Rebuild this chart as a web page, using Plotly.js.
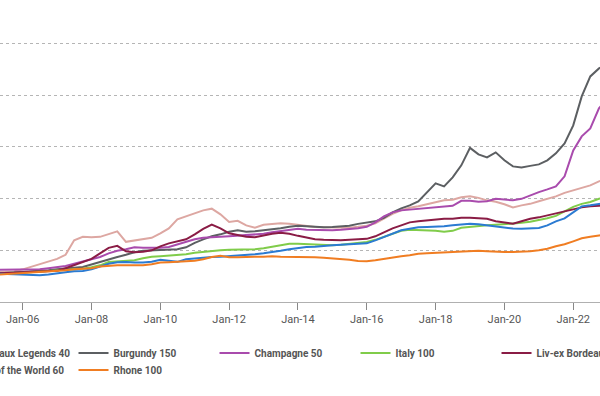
<!DOCTYPE html>
<html>
<head>
<meta charset="utf-8">
<script src="https://cdn.plot.ly/plotly-3.0.1.min.js"></script>
<style>
  html, body { margin: 0; padding: 0; width: 600px; height: 396px; overflow: hidden; background: #fff; }
  #chart { position: absolute; left: -100px; top: 0; width: 800px; height: 396px; }
</style>
</head>
<body>
<div id="chart"></div>
<script>
const dates = [
  '2005-01-01','2005-04-01','2005-07-01','2005-10-01',
  '2006-01-01','2006-04-01','2006-07-01','2006-10-01',
  '2007-01-01','2007-04-01','2007-07-01','2007-10-01',
  '2008-01-01','2008-04-01','2008-07-01','2008-10-01',
  '2009-01-01','2009-04-01','2009-07-01','2009-10-01',
  '2010-01-01','2010-04-01','2010-07-01','2010-10-01',
  '2011-01-01','2011-04-01','2011-07-01','2011-10-01',
  '2012-01-01','2012-04-01','2012-07-01','2012-10-01',
  '2013-01-01','2013-04-01','2013-07-01','2013-10-01',
  '2014-01-01','2014-04-01','2014-07-01','2014-10-01',
  '2015-01-01','2015-04-01','2015-07-01','2015-10-01',
  '2016-01-01','2016-04-01','2016-07-01','2016-10-01',
  '2017-01-01','2017-04-01','2017-07-01','2017-10-01',
  '2018-01-01','2018-04-01','2018-07-01','2018-10-01',
  '2019-01-01','2019-04-01','2019-07-01','2019-10-01',
  '2020-01-01','2020-04-01','2020-07-01','2020-10-01',
  '2021-01-01','2021-04-01','2021-07-01','2021-10-01',
  '2022-01-01','2022-04-01','2022-07-01','2022-10-01',
  '2023-01-01'
];

const tickDates = ['2006-01-01','2008-01-01','2010-01-01','2012-01-01','2014-01-01',
                   '2016-01-01','2018-01-01','2020-01-01','2022-01-01'];
const tickLabels = ['Jan-06','Jan-08','Jan-10','Jan-12','Jan-14','Jan-16','Jan-18','Jan-20','Jan-22'];

const bordeauxLegends40 = [
  57.4, 58.0, 58.4, 59.0, 63.2, 68.1, 72.9, 77.7, 83.5, 91.3, 119.3, 126.1,
  125.1, 126.1, 130.9, 136.7, 116.4, 119.3, 122.2, 124.2, 132.9, 142.5, 159.9, 165.7,
  171.5, 177.3, 180.6, 169.6, 154.7, 157.0, 148.3, 143.9, 149.3, 151.2, 152.2, 151.6,
  149.3, 146.4, 145.1, 144.5, 143.9, 143.9, 143.9, 145.4, 147.4, 152.2, 161.3, 170.6,
  177.3, 182.2, 185.1, 189.0, 193.8, 196.7, 197.7, 202.5, 204.4, 201.5, 196.7, 193.8,
  189.0, 183.1, 187.0, 189.9, 194.8, 199.6, 204.4, 211.2, 216.0, 220.9, 225.7, 233.4, 239.2
];
const burgundy150 = [
  54.5, 55.5, 56.1, 56.5, 57.4, 58.4, 59.4, 61.3, 63.2, 65.2, 66.1, 67.7,
  72.9, 77.4, 82.6, 87.0, 91.3, 96.1, 99.0, 100.0, 101.0, 101.9, 101.9, 105.8,
  114.5, 121.3, 127.1, 130.9, 135.8, 138.7, 135.8, 136.7, 138.7, 139.6, 142.5, 145.4,
  147.4, 146.4, 145.4, 144.5, 145.1, 146.4, 147.4, 151.2, 153.2, 156.1, 162.8, 173.5,
  181.2, 187.0, 194.8, 212.2, 229.6, 223.8, 241.2, 264.4, 298.2, 285.7, 279.8, 289.5,
  274.1, 262.4, 260.5, 263.4, 266.3, 274.1, 287.6, 306.9, 341.7, 397.8, 436.5, 452.0, 459.8
];
const champagne50 = [
  62.3, 62.3, 62.7, 62.7, 62.7, 62.7, 63.2, 65.2, 67.1, 69.6, 73.9, 78.7,
  83.5, 87.0, 94.2, 99.0, 101.9, 105.8, 104.8, 104.4, 104.8, 106.4, 111.6, 116.4,
  121.3, 124.2, 125.7, 126.1, 127.1, 128.0, 129.0, 130.0, 131.9, 134.8, 136.7, 138.7,
  141.6, 140.0, 139.6, 138.7, 138.7, 139.6, 140.6, 142.5, 145.4, 154.1, 165.7, 173.5,
  177.3, 178.7, 181.2, 182.2, 183.1, 184.1, 186.1, 195.7, 195.7, 193.8, 194.8, 199.6,
  198.6, 196.7, 199.6, 206.4, 212.7, 218.0, 223.8, 243.1, 293.4, 320.5, 335.9, 374.6, 394.0
];
const italy100 = [
  53.6, 53.6, 54.5, 55.5, 56.5, 57.4, 58.4, 59.4, 60.3, 61.3, 62.3, 64.2,
  67.1, 71.0, 77.4, 78.7, 79.7, 80.6, 84.5, 87.4, 88.4, 89.4, 90.3, 92.3,
  95.2, 97.1, 99.0, 100.0, 101.0, 101.0, 101.9, 101.9, 103.9, 106.8, 110.6, 112.6,
  112.6, 111.6, 110.6, 109.7, 109.7, 110.6, 112.6, 114.5, 116.0, 120.3, 125.7, 131.9,
  137.7, 140.0, 139.6, 138.7, 137.7, 135.8, 137.7, 143.5, 145.4, 146.4, 148.3, 149.3,
  150.3, 151.2, 153.2, 155.1, 158.0, 161.9, 166.7, 175.4, 184.1, 189.9, 193.4, 199.6, 202.5
];
const livexBordeaux500 = [
  55.5, 55.5, 56.1, 56.5, 57.4, 58.0, 58.4, 59.4, 60.3, 65.2, 71.0, 76.8,
  83.5, 94.2, 104.8, 108.7, 98.1, 96.1, 97.1, 100.0, 107.7, 113.5, 117.4, 121.3,
  130.9, 141.6, 149.7, 142.5, 132.9, 130.0, 126.1, 125.1, 129.0, 131.9, 133.8, 131.9,
  128.0, 124.2, 121.3, 120.3, 119.3, 119.3, 120.3, 121.3, 122.2, 127.1, 134.8, 142.5,
  148.3, 154.1, 156.1, 158.0, 159.9, 160.9, 161.3, 162.8, 162.8, 161.9, 160.9, 156.1,
  154.1, 151.6, 156.1, 160.9, 163.8, 167.7, 171.5, 176.4, 179.3, 183.1, 185.1, 186.1, 187.0
];
const restOfWorld60 = [
  55.5, 54.9, 54.5, 53.6, 52.6, 51.6, 51.6, 53.0, 54.5, 57.4, 59.4, 60.0,
  63.2, 69.0, 73.9, 76.8, 77.4, 76.2, 76.2, 77.7, 81.6, 79.7, 77.7, 82.6,
  84.5, 85.9, 87.0, 87.4, 88.4, 89.4, 91.3, 92.3, 94.2, 96.1, 99.0, 101.9,
  104.4, 106.4, 106.8, 108.7, 109.7, 110.6, 111.6, 112.6, 113.5, 119.3, 125.7, 132.9,
  138.7, 141.6, 144.5, 145.1, 145.1, 146.4, 148.3, 150.3, 151.6, 150.3, 148.3, 146.4,
  144.5, 142.0, 141.6, 142.5, 143.1, 148.3, 156.1, 161.9, 173.5, 185.1, 187.0, 189.9, 191.9
];
const rhone100 = [
  51.6, 52.6, 53.6, 54.5, 55.5, 56.1, 57.4, 59.4, 60.3, 61.3, 63.2, 64.2,
  65.2, 68.5, 70.0, 71.0, 71.0, 71.0, 71.0, 72.9, 76.2, 76.8, 77.4, 77.7,
  79.7, 82.6, 87.0, 89.4, 86.5, 86.5, 87.4, 87.4, 87.4, 88.4, 87.4, 87.4,
  87.0, 86.5, 86.5, 85.5, 84.5, 83.5, 81.6, 79.3, 78.7, 80.6, 83.5, 86.5,
  88.4, 90.3, 93.2, 94.2, 95.2, 96.1, 96.7, 98.1, 99.0, 99.0, 98.1, 97.1,
  96.7, 96.7, 97.1, 98.1, 100.0, 102.9, 107.7, 111.6, 117.4, 123.2, 126.1, 129.0, 130.9
];

const seriesNames = ['Bordeaux Legends 40', 'Burgundy 150', 'Champagne 50', 'Italy 100',
                     'Liv-ex Bordeaux 500', 'Rest of the World 60', 'Rhone 100'];
const seriesValues = [bordeauxLegends40, burgundy150, champagne50, italy100,
                      livexBordeaux500, restOfWorld60, rhone100];
const seriesColors = ['#dda7a2', '#5c5f62', '#a94bad', '#80cc4a', '#8a1c45', '#2b7bd2', '#f07d22'];
const seriesLegend = ['legend', 'legend', 'legend', 'legend', 'legend', 'legend2', 'legend2'];

const traces = seriesNames.map((name, i) => ({
  type: 'scatter',
  mode: 'lines',
  name: name,
  x: dates,
  y: seriesValues[i],
  line: { color: seriesColors[i], width: 2 },
  legend: seriesLegend[i],
  hoverinfo: 'skip'
}));

const legendFont = { family: 'Roboto', size: 10, color: '#555555', weight: 700 };
const layout = {
  width: 800,
  height: 396,
  margin: { l: 40, r: 40, t: 10, b: 94, autoexpand: false },
  paper_bgcolor: '#ffffff',
  plot_bgcolor: '#ffffff',
  font: { family: 'Roboto', color: '#555555' },
  showlegend: true,
  xaxis: {
    type: 'date',
    range: ['2003-08-07', '2024-07-10'],
    tickmode: 'array',
    tickvals: tickDates,
    ticktext: tickLabels,
    showgrid: false,
    zeroline: false,
    showline: true,
    linecolor: '#b0b0b0',
    linewidth: 1,
    ticks: 'outside',
    ticklen: 7,
    tickwidth: 1,
    tickcolor: '#888888',
    tickfont: { family: 'Roboto', size: 11, color: '#555555' }
  },
  yaxis: {
    range: [0, 565],
    dtick: 100,
    tick0: 0,
    showgrid: true,
    gridcolor: '#b5b5b5',
    gridwidth: 1,
    griddash: 'dot',
    zeroline: false,
    showline: false,
    showticklabels: false,
    ticks: ''
  },
  legend: {
    orientation: 'h',
    x: -0.0104, xanchor: 'left',
    y: -0.125, yanchor: 'top',
    entrywidth: 96, entrywidthmode: 'pixels',
    font: legendFont,
    bgcolor: 'rgba(0,0,0,0)'
  },
  legend2: {
    orientation: 'h',
    x: -0.0104, xanchor: 'left',
    y: -0.183, yanchor: 'top',
    entrywidth: 96, entrywidthmode: 'pixels',
    font: legendFont,
    bgcolor: 'rgba(0,0,0,0)'
  }
};

Plotly.newPlot('chart', traces, layout, { staticPlot: true, displayModeBar: false });
</script>
</body>
</html>
